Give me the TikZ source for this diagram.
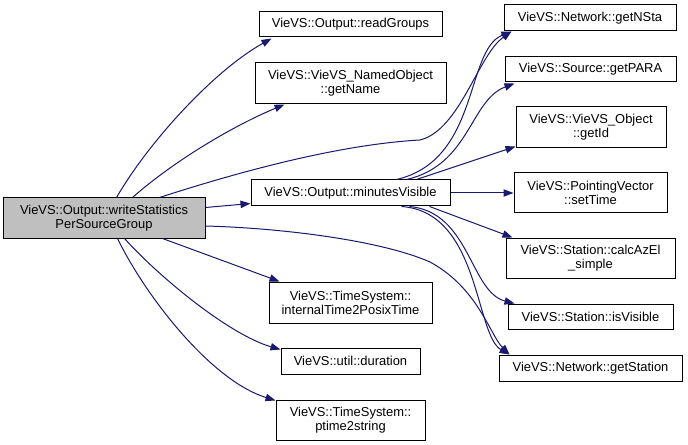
\documentclass[tikz,border=0pt]{standalone}
\usepackage{fontspec}
\setmainfont{Liberation Sans}
\usetikzlibrary{arrows.meta,calc}
\definecolor{edgec}{HTML}{191970}
\definecolor{nodegray}{HTML}{BFBFBF}
\begin{document}
\begin{tikzpicture}[x=0.75pt,y=-0.75pt,
  box/.style={draw=black, line width=0.75pt, fill=white, inner sep=0pt, align=center,
    font=\fontsize{9.7}{10.6}\selectfont},
  bw/.style={minimum width=#1*0.75pt},
  bh/.style={minimum height=#1*0.75pt},
  edge/.style={draw=edgec, line width=0.75pt, -{Triangle[length=7.5pt,width=5.5pt]}},
]
\useasboundingbox[fill=white] (0,0) rectangle (688,445);

% left node
\node[box, fill=nodegray, bw=202, bh=40] (A) at (104,218) {VieVS::Output::writeStatistics\\PerSourceGroup};

% middle column
\node[box, bw=183, bh=25] (RG) at (350.5,24.5) {VieVS::Output::readGroups};
\node[box, bw=191, bh=41] (GN) at (350.5,83.5) {VieVS::VieVS\_NamedObject\\::getName};
\node[box, bw=199, bh=26] (MV) at (350.5,193) {VieVS::Output::minutesVisible};
\node[box, bw=163, bh=41] (IT) at (350.5,302.5) {VieVS::TimeSystem::\\internalTime2PosixTime};
\node[box, bw=139, bh=26] (DU) at (350.5,361) {VieVS::util::duration};
\node[box, bw=149, bh=40] (PT) at (350.5,420) {VieVS::TimeSystem::\\ptime2string};

% right column
\node[box, bw=172, bh=26] (NS) at (590,18) {VieVS::Network::getNSta};
\node[box, bw=171, bh=25] (PA) at (590.5,69.5) {VieVS::Source::getPARA};
\node[box, bw=150, bh=41] (ID) at (591,127.5) {VieVS::VieVS\_Object\\::getId};
\node[box, bw=153, bh=40] (ST) at (590.5,193) {VieVS::PointingVector\\::setTime};
\node[box, bw=169, bh=40] (AZ) at (590.5,258) {VieVS::Station::calcAzEl\\\_simple};
\node[box, bw=165, bh=25] (IV) at (590.5,316.5) {VieVS::Station::isVisible};
\node[box, bw=183, bh=26] (GS) at (590.5,368) {VieVS::Network::getStation};

% edges from writeStatisticsPerSourceGroup
\draw[edge] ($(A.north west)+(114,0)$) .. controls (150,140) and (215,70) .. ($(RG.south west)+(13,1)$);
\draw[edge] ($(A.north west)+(130,0)$) .. controls (175,160) and (235,125) .. ($(GN.south west)+(30,0)$);
\draw[edge] ($(A.north west)+(157,0)$) .. controls (220,178) and (330,145) .. (420,140)
  .. controls (460,130) and (478,55) .. ($(NS.south west)+(8,0)$);
\draw[edge] ($(A.north east)+(0,10)$) -- ($(MV.south west)+(0,-3)$);
\draw[edge] ($(A.east)+(0,8)$) .. controls (280,228) and (380,240) .. (430,262)
  .. controls (478,288) and (490,335) .. ($(GS.north west)+(11,0)$);
\draw[edge] ($(A.south west)+(160,0)$) -- ($(IT.north west)+(11,0)$);
\draw[edge] ($(A.south west)+(122,0)$) .. controls (160,278) and (230,335) .. ($(DU.north west)+(0,2)$);
\draw[edge] ($(A.south west)+(115,0)$) .. controls (145,295) and (210,380) .. ($(PT.north west)+(0,1)$);

% edges from minutesVisible
\draw[edge] ($(MV.north west)+(146,0)$) .. controls (480,160) and (465,50) .. ($(NS.south west)+(8,0)$);
\draw[edge] ($(MV.north west)+(156,0)$) .. controls (470,165) and (470,100) .. ($(PA.south west)+(10,1)$);
\draw[edge] ($(MV.north west)+(166,0)$) -- ($(ID.south west)+(0,-2)$);
\draw[edge] (MV.east) -- (ST.west);
\draw[edge] ($(MV.south west)+(179,0)$) -- ($(AZ.north west)+(7,0)$);
\draw[edge] ($(MV.south west)+(159,0)$) .. controls (470,212) and (470,292) .. ($(IV.north west)+(7,0)$);
\draw[edge] ($(MV.south west)+(151,0)$) .. controls (480,212) and (475,335) .. ($(GS.north west)+(11,0)$);
\end{tikzpicture}
\end{document}
